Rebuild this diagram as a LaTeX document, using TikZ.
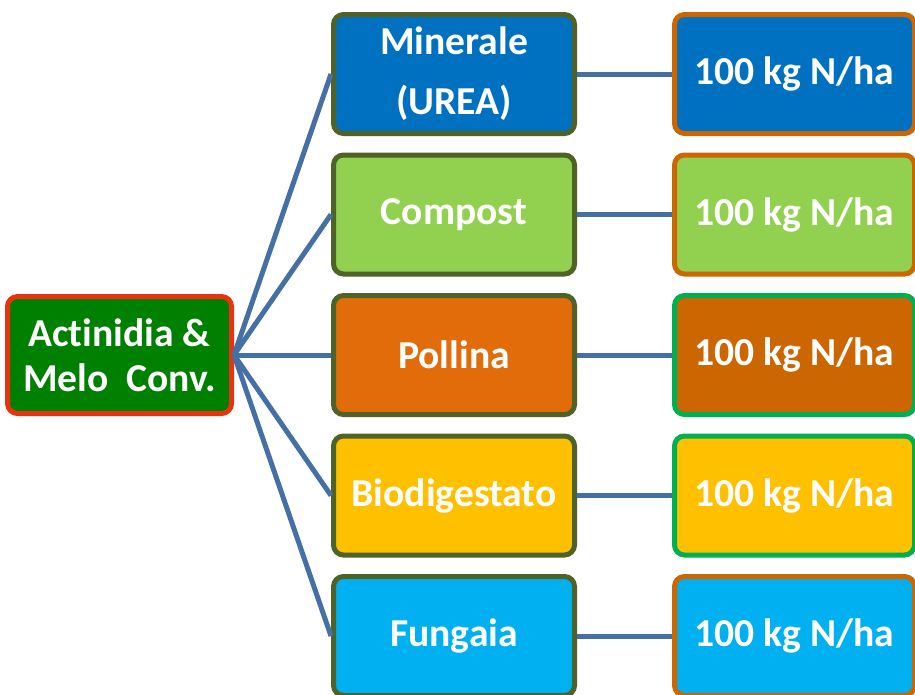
\documentclass[tikz,border=0pt]{standalone}
\usepackage{fontspec}
\setmainfont[Ligatures={NoCommon}]{Carlito}
\definecolor{cblue}{HTML}{0070C0}
\definecolor{cgreen}{HTML}{92D050}
\definecolor{corange}{HTML}{E36C0A}
\definecolor{cbrown}{HTML}{CC6600}
\definecolor{cyellow}{HTML}{FFC000}
\definecolor{ccyan}{HTML}{00B0F0}
\definecolor{cdark}{HTML}{008000}
\definecolor{cred}{HTML}{E63312}
\definecolor{colive}{HTML}{4F6228}
\definecolor{cgborder}{HTML}{00B050}
\definecolor{cline}{HTML}{4470A6}
\tikzset{
  box/.style={rectangle, rounded corners=10pt, line width=5pt, text=white,
    font=\fontsize{39.6}{60}\selectfont\bfseries, align=center, inner sep=0pt},
  leftbox/.style={box, fill=cdark, draw=cred, minimum width=224pt, minimum height=117pt,
    font=\fontsize{39.6}{45}\selectfont\bfseries},
  midbox/.style={box, draw=colive, minimum width=241pt, minimum height=119pt},
  rightbox/.style={box, minimum width=240pt, minimum height=119pt},
  link/.style={draw=cline, line width=5pt}
}
\begin{document}
\begin{tikzpicture}[x=1pt,y=-1pt]
\useasboundingbox (0,0) rectangle (915,694);
\node[leftbox] (L) at (119.5,355) {Act\kern0pt inidia \&\\Melo\ \ Conv.};
\node[midbox, fill=cblue]   (M1) at (454,74)    {Minerale\\(UREA)};
\node[midbox, fill=cgreen]  (M2) at (454,214.5) {Compost};
\node[midbox, fill=corange] (M3) at (454,355)   {Pollina};
\node[midbox, fill=cyellow] (M4) at (454,495.5) {Biodigestato};
\node[midbox, fill=ccyan]   (M5) at (454,636)   {Fungaia};
\node[rightbox, fill=cblue,   draw=cbrown]    (R1) at (794.5,74)    {100 kg N/ha};
\node[rightbox, fill=cgreen,  draw=cbrown]    (R2) at (794.5,214.5) {100 kg N/ha};
\node[rightbox, fill=cbrown,  draw=cgborder]  (R3) at (794.5,355)   {100 kg N/ha};
\node[rightbox, fill=cyellow, draw=cgborder]  (R4) at (794.5,495.5) {100 kg N/ha};
\node[rightbox, fill=ccyan,   draw=cbrown]    (R5) at (794.5,636)   {100 kg N/ha};
\foreach \i in {1,...,5} {
  \draw[link] (L.east) -- (M\i.west);
  \draw[link] (M\i.east) -- (R\i.west);
}
\end{tikzpicture}
\end{document}
